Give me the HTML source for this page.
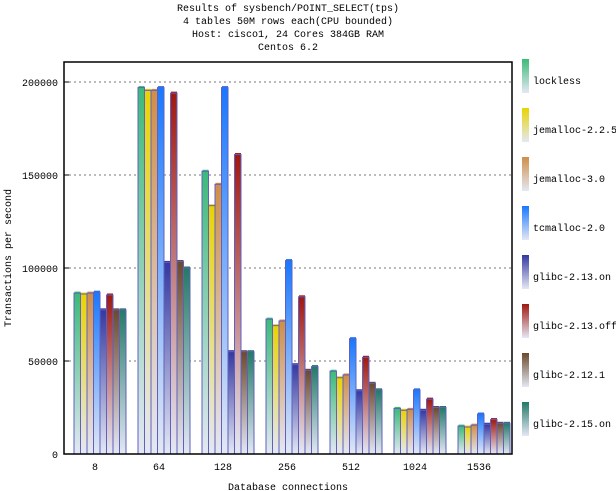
<!DOCTYPE html>
<html><head><meta charset="utf-8"><style>
html,body{margin:0;padding:0;background:#fff}
svg{display:block}
text{font-family:"Liberation Mono","DejaVu Sans Mono",monospace;font-size:10px;fill:#000}
</style></head><body>
<svg width="616" height="491" viewBox="0 0 616 491" xmlns="http://www.w3.org/2000/svg">
<defs id="d"></defs>
<text x="288" y="11" text-anchor="middle">Results of sysbench/POINT_SELECT(tps)</text>
<text x="288" y="24" text-anchor="middle">4 tables 50M rows each(CPU bounded)</text>
<text x="288" y="37" text-anchor="middle">Host: cisco1, 24 Cores 384GB RAM</text>
<text x="288" y="50" text-anchor="middle">Centos 6.2</text>
<g id="grid"></g>
<g id="bars"></g>
<rect x="64" y="62" width="448" height="392" fill="none" stroke="#000" stroke-width="1.5"/>
<g id="ticks"></g>
<g id="leg"></g>
<text transform="translate(11,258) rotate(-90)" text-anchor="middle">Transactions per second</text>
<text x="288" y="490" text-anchor="middle">Database connections</text>
</svg>
<script>
var NS="http://www.w3.org/2000/svg";
function el(t,a,p,txt){var e=document.createElementNS(NS,t);for(var k in a)e.setAttribute(k,a[k]);if(txt)e.textContent=txt;p.appendChild(e);return e;}
var cols=["#3cba78","#e8d400","#d08e48","#1878ff","#3438a0","#a01810","#6a4a2c","#227a66"];
var names=["lockless","jemalloc-2.2.5","jemalloc-3.0","tcmalloc-2.0","glibc-2.13.on","glibc-2.13.off","glibc-2.12.1","glibc-2.15.on"];
var d=document.getElementById("d");
cols.forEach(function(c,i){var g=el("linearGradient",{id:"g"+i,x1:0,y1:0,x2:0,y2:1},d);
el("stop",{"offset":"0","stop-color":c},g);el("stop",{"offset":"1","stop-color":"#e4e8f4"},g);});
var data=[[86500,86000,86500,87000,77500,85500,77500,77500],
[197000,195500,195500,197000,103000,194000,103500,100000],
[152000,133500,145000,197000,55000,161000,55000,55000],
[72500,69000,71500,104000,48000,84500,45000,47000],
[44500,41000,42500,62000,34000,52000,38000,34500],
[24500,23500,24000,34500,23500,29500,25000,25000],
[15000,14500,15500,21500,16000,18500,16500,16500]];
var labs=["8","64","128","256","512","1024","1536"];
var grid=document.getElementById("grid"),ticks=document.getElementById("ticks"),bars=document.getElementById("bars"),leg=document.getElementById("leg");
function Y(v){return 454-v*0.00186;}
for(var t=0;t<=200000;t+=50000){var y=Y(t);
if(t>0)el("line",{x1:64,x2:512,y1:y,y2:y,stroke:"#777","stroke-dasharray":"2,3"},grid);
el("line",{x1:64,x2:69,y1:y,y2:y,stroke:"#000"},ticks);
el("text",{x:58,y:y+4,"text-anchor":"end"},ticks,String(t));}
data.forEach(function(g,i){var x0=74+64*i;
el("text",{x:95+64*i,y:470,"text-anchor":"middle"},ticks,labs[i]);
g.forEach(function(v,j){var x=x0+j*6.5,y=Y(v);
el("rect",{x:x+0.5,y:y-1.5,width:6,height:2,fill:cols[j]},bars);
el("rect",{x:x,y:y,width:6.5,height:454-y,fill:"url(#g"+j+")",stroke:"#6060c0","stroke-width":1},bars);});});
names.forEach(function(n,i){var y=59+49*i;
el("rect",{x:522,y:y,width:7,height:34,fill:"url(#g"+i+")"},leg);
el("text",{x:533,y:y+25},leg,n);});
</script>
</body></html>
